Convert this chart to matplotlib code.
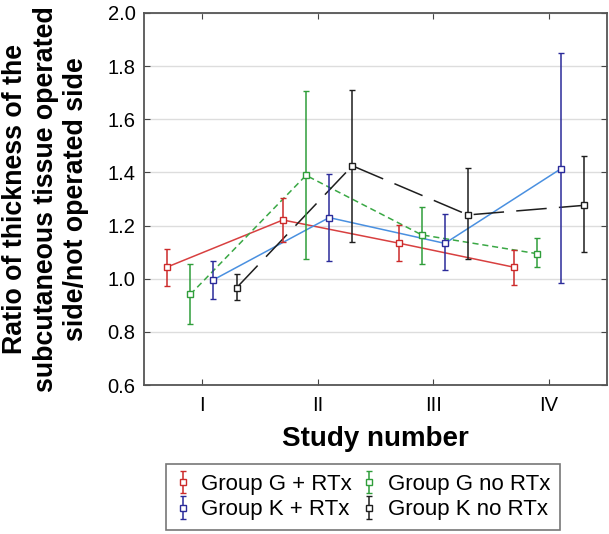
import numpy as np
import matplotlib
matplotlib.use("Agg")
import matplotlib.pyplot as plt

plt.rcParams['font.family'] = ['Liberation Sans', 'DejaVu Sans']

studies = ['I', 'II', 'III', 'IV']
groups = ['Group G + RTx', 'Group G no RTx', 'Group K + RTx', 'Group K no RTx']

# mean, lower and upper whisker per study
g_rtx_mean = [1.044, 1.221, 1.134, 1.043]
g_rtx_low = [0.971, 1.140, 1.066, 0.975]
g_rtx_high = [1.112, 1.304, 1.204, 1.109]

g_no_mean = [0.941, 1.389, 1.165, 1.094]
g_no_low = [0.828, 1.074, 1.056, 1.043]
g_no_high = [1.056, 1.705, 1.270, 1.154]

k_rtx_mean = [0.996, 1.230, 1.133, 1.413]
k_rtx_low = [0.924, 1.066, 1.031, 0.984]
k_rtx_high = [1.068, 1.394, 1.243, 1.848]

k_no_mean = [0.966, 1.425, 1.240, 1.276]
k_no_low = [0.919, 1.140, 1.074, 1.099]
k_no_high = [1.016, 1.709, 1.415, 1.461]

series = [
    (groups[0], g_rtx_mean, g_rtx_low, g_rtx_high, -0.3, '#cc2a2a', '#d84040', '-'),
    (groups[1], g_no_mean, g_no_low, g_no_high, -0.1, '#2f9e3a', '#3aa845', (0, (4, 2.5))),
    (groups[2], k_rtx_mean, k_rtx_low, k_rtx_high, 0.1, '#2b2b9a', '#4a90e0', '-'),
    (groups[3], k_no_mean, k_no_low, k_no_high, 0.3, '#1e1e1e', '#1e1e1e', (0, (20, 8))),
]

fig = plt.figure(figsize=(6.09, 5.34), dpi=100)
ax = fig.add_axes([0.2365, 0.279, 0.76, 0.6967])

x = np.arange(1, len(studies) + 1)
handles = {}
for name, mean, low, high, off, ecol, lcol, ls in series:
    mean = np.array(mean)
    yerr = [mean - np.array(low), np.array(high) - mean]
    ax.plot(x + off, mean, color=lcol, linestyle=ls, linewidth=1.1, zorder=2)
    h = ax.errorbar(x + off, mean, yerr=yerr, fmt='s', mfc='white', mec=ecol,
                    mew=1.0, ms=5, ecolor=ecol, elinewidth=1.1, capsize=2.5,
                    capthick=1.0, label=name, zorder=3)
    handles[name] = h

ax.set_xlim(0.5, 4.5)
ax.set_ylim(0.6, 2.0)
ax.set_xticks(x)
ax.set_xticklabels(studies)
ax.set_yticks(np.arange(0.6, 2.01, 0.2))
ax.set_yticklabels([f'{v:.1f}' for v in np.arange(0.6, 2.01, 0.2)])
ax.tick_params(axis='both', direction='in', labelsize=14.5, length=4,
               top=True, right=True, color='#444444')
ax.tick_params(axis='x', pad=8)
ax.tick_params(axis='y', pad=6)
ax.grid(axis='y', color='#dddddd', linewidth=1.0)
ax.set_axisbelow(True)
for sp in ax.spines.values():
    sp.set_color('#555555')
    sp.set_linewidth(1.3)

ax.set_xlabel('Study number', fontsize=20, fontweight='bold', labelpad=8)
fig.text(0.075, 0.627, 'Ratio of thickness of the\nsubcutaneous tissue operated\nside/not operated side',
         rotation=90, ha='center', va='center', fontsize=19.3, fontweight='bold',
         multialignment='center', linespacing=1.24)

order = [groups[0], groups[2], groups[1], groups[3]]
leg = fig.legend([handles[n] for n in order], order, loc='center',
                 bbox_to_anchor=(0.596, 0.069), ncol=2, fontsize=16,
                 frameon=True, fancybox=False, edgecolor='#555555',
                 handlelength=0.6, handletextpad=0.55, columnspacing=0.45,
                 borderpad=0.45, borderaxespad=0.0, labelspacing=0.2)
leg.get_frame().set_linewidth(1.2)

fig.savefig('out.png', dpi=100)
